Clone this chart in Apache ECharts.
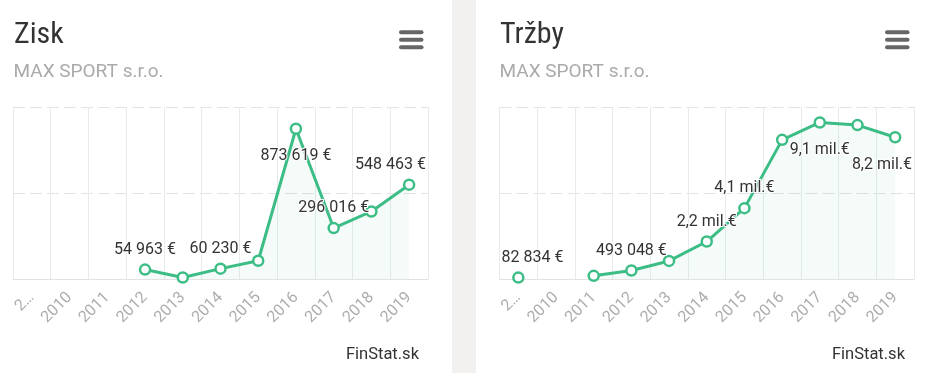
<!DOCTYPE html>
<html><head><meta charset="utf-8">
<script src="https://cdn.jsdelivr.net/npm/echarts@6/dist/echarts.min.js"></script>
<style>html,body{margin:0;padding:0;background:#fff}#c{width:931px;height:373px}</style>
</head><body><div id="c"></div>
<script>
// ---- data ----
const categories = ['2…', '2010', '2011', '2012', '2013', '2014', '2015', '2016', '2017', '2018', '2019'];
const ziskValues = [null, null, null, 54963, 8700, 60230, 106000, 873619, 296016, 392600, 548463];
const trzbyValues = [82834, null, 185000, 493048, 1050000, 2180000, 4120000, 8090000, 9100000, 8950000, 8240000];
const ziskLabelIndex = [3, 5, 7, 8, 10];
const trzbyLabelIndex = [0, 3, 5, 6, 8, 10];
const ziskAxisTicks = [0, 500000, 1000000];
const trzbyAxisTicks = [0, 5000000, 10000000];
const companyName = 'MAX SPORT s.r.o.';
const panelTitles = ['Zisk', 'Tržby'];
const creditText = 'FinStat.sk';

// ---- styling ----
const GREEN = '#3cbd85';
const FONT = 'Roboto, "Noto Sans", sans-serif';
const TITLE_FONT = '"Roboto Condensed", "Liberation Sans Narrow", "DejaVu Sans Condensed", Roboto, sans-serif';
const grids = [
  { left: 13, top: 107, width: 415, height: 172 },
  { left: 499.5, top: 107, width: 414.5, height: 172 }
];
const panelX = [0, 486];

function fmt(v) {
  if (v >= 1e6) return (v / 1e6).toFixed(1).replace('.', ',') + ' mil.€';
  return String(Math.round(v)).replace(/\B(?=(\d{3})+(?!\d))/g, ' ') + ' €';
}

// keep labels inside the plot area: flip below the point if too high, shift sideways at the edges
function makeLayout(g) {
  return function (p) {
    const r = p.labelRect;
    let dx = 0, dy = 0;
    if (r.y < g.top + 5) dy = 47.5;
    const right = g.left + g.width;
    if (r.x + r.width > right) dx = right - (r.x + r.width) - 1;
    if (r.x < g.left) dx = g.left - r.x + 1;
    return { dx: dx, dy: dy };
  };
}

function buildData(values, labelIdx) {
  return values.map(function (v, i) {
    if (v === null) return '-';
    return { value: v, label: { show: labelIdx.indexOf(i) >= 0 } };
  });
}

function xAxis(gi) {
  return {
    gridIndex: gi, type: 'category', data: categories, boundaryGap: true,
    axisLine: { show: true, lineStyle: { color: '#e2e2e2', width: 1 } },
    axisTick: { show: false },
    splitLine: { show: true, lineStyle: { color: '#e6ecec', width: 1 } },
    axisLabel: { interval: 0, rotate: 45, margin: 16, color: '#adadad', fontSize: 16, fontFamily: FONT }
  };
}
function yAxis(gi, ticks) {
  return {
    gridIndex: gi, type: 'value', min: ticks[0], max: ticks[ticks.length - 1], interval: ticks[1] - ticks[0],
    axisLabel: { show: false }, axisLine: { show: false }, axisTick: { show: false },
    splitLine: { show: true, lineStyle: { color: '#e3e3e3', width: 1, type: [12, 5] } }
  };
}
function series(gi, values, labelIdx) {
  return {
    type: 'line', xAxisIndex: gi, yAxisIndex: gi,
    data: buildData(values, labelIdx),
    connectNulls: false, showAllSymbol: true,
    symbol: 'circle', symbolSize: 10,
    lineStyle: { color: GREEN, width: 3 },
    itemStyle: { color: '#fff', borderColor: GREEN, borderWidth: 2.5 },
    areaStyle: { color: 'rgba(60,189,133,0.08)' },
    label: {
      show: false, position: 'top', distance: 5.5,
      formatter: function (p) { return fmt(p.value); },
      color: '#333', fontSize: 16, fontFamily: FONT,
      textBorderColor: '#fff', textBorderWidth: 2
    },
    labelLayout: makeLayout(grids[gi]),
    emphasis: { disabled: true },
    z: 3
  };
}

const graphics = [
  { type: 'rect', shape: { x: 452, y: 0, width: 24, height: 373 }, style: { fill: '#f2f1ef' }, silent: true }
];
[0, 1].forEach(function (i) {
  const ox = panelX[i];
  graphics.push({ type: 'text', x: 14 + ox, y: 35, style: { text: panelTitles[i], font: '30px ' + TITLE_FONT, fill: '#333', verticalAlign: 'middle' } });
  graphics.push({ type: 'text', x: 13.5 + ox, y: 72, style: { text: companyName, font: '19px ' + FONT, fill: '#aaaaaa', verticalAlign: 'middle' } });
  graphics.push({ type: 'text', x: 419 + ox, y: 355, style: { text: creditText, font: '16.5px ' + FONT, fill: '#333', align: 'right', verticalAlign: 'middle' } });
  [30.3, 37.8, 45.3].forEach(function (y) {
    graphics.push({ type: 'rect', shape: { x: 399 + ox, y: y, width: 24.5, height: 4, r: 2 }, style: { fill: '#666' } });
  });
});

const chart = echarts.init(document.getElementById('c'), null, { renderer: 'canvas' });
chart.setOption({
  animation: false,
  backgroundColor: '#fff',
  grid: grids,
  xAxis: [xAxis(0), xAxis(1)],
  yAxis: [yAxis(0, ziskAxisTicks), yAxis(1, trzbyAxisTicks)],
  series: [series(0, ziskValues, ziskLabelIndex), series(1, trzbyValues, trzbyLabelIndex)],
  graphic: graphics
});
</script></body></html>
